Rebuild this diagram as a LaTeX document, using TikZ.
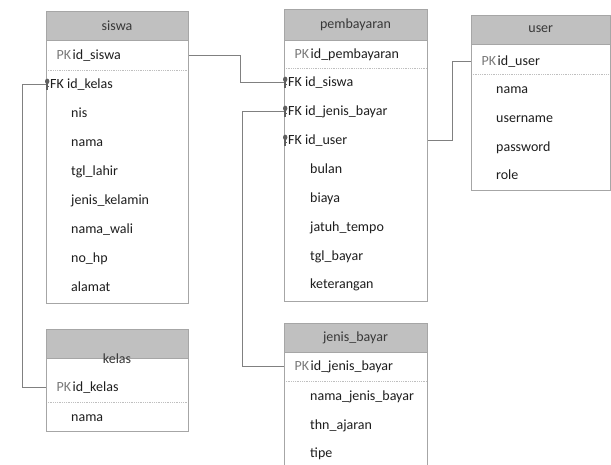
\documentclass[tikz,border=0pt]{standalone}
\usepackage{fontspec}
\setmainfont{Carlito}

\definecolor{hdrgray}{HTML}{C0C0C0}
\definecolor{bordergray}{HTML}{A6A6A6}
\definecolor{textdark}{HTML}{1E1E1E}
\definecolor{hdrtext}{HTML}{383838}
\definecolor{pkgray}{HTML}{7A7A7A}
\definecolor{linkgray}{HTML}{808080}
\definecolor{sepgray}{HTML}{BFBFBF}
\definecolor{keygray}{HTML}{5E5E5E}

% table frame: name, left, right, top, header bottom, separator, bottom, title, title y
\newcommand\erframe[9]{%
  \fill[white] (#2,#4) rectangle (#3,#7);
  \draw[hdrbox] (#2,#4) rectangle (#3,#5);
  \draw[sepline] (#2,#6) -- (#3,#6);
  \draw[framebox] (#2,#4) rectangle (#3,#7);
  \node[titletext] (#1) at ({(#2+#3)/2},#9) {#8};
}
% plain attribute: name, x, row y, text
\newcommand\erattr[4]{\node[attrtext] (#1) at (#2,#3+4.5) {#4};}
% primary key row: name, box left, row y, text
\newcommand\erpk[4]{%
  \node[pktext] (#1-tag) at (#2+10.5,#3+4.5) {PK};
  \node[attrtext] (#1) at (#2+26.5,#3+4.5) {#4};}
% foreign key row with key glyph: name, box left, row y, text
\newcommand\erfk[4]{%
  \fill[keygray] (#2+1.2,#3-2.6) ellipse (2.2 and 2.7);
  \draw[keygray, line width=1.6pt] (#2+1.2,#3-1) -- (#2+1.2,#3+5.5);
  \draw[keygray, line width=0.9pt] (#2+1.2,#3+2.8) -- (#2+3,#3+2.8);
  \node[attrtext] (#1) at (#2+4,#3+4.5) {FK #4};}

\begin{document}
\begin{tikzpicture}[x=1pt, y=-1pt,
  hdrbox/.style={fill=hdrgray, draw=bordergray, line width=0.8pt},
  framebox/.style={draw=bordergray, line width=0.8pt},
  sepline/.style={draw=sepgray, line width=0.8pt, dash pattern=on 1pt off 0.8pt},
  attrtext/.style={anchor=base west, inner sep=0pt, text=textdark, font=\fontsize{14}{16}\selectfont},
  pktext/.style={attrtext, text=pkgray},
  titletext/.style={inner sep=0pt, text=hdrtext, font=\fontsize{14}{16}\selectfont},
  link/.style={draw=linkgray, line width=0.8pt}]
\useasboundingbox (0,0) rectangle (611,464);
\clip (0,0) rectangle (611,464);
\fill[white] (0,0) rectangle (611,464);

% connectors
\coordinate (siswa-pk-e) at (188,55);
\coordinate (siswa-fk-w) at (46,84);
\coordinate (kelas-pk-w) at (46,387);
\coordinate (bayar-fks-w) at (284,82);
\coordinate (bayar-fkj-w) at (284,111);
\coordinate (bayar-fku-e) at (427,140);
\coordinate (jenis-pk-w) at (284,366);
\coordinate (user-pk-w) at (471,61);

\draw[link] (siswa-pk-e) -- ++(52,0) |- (bayar-fks-w);
\draw[link] (siswa-fk-w) -- ++(-24,0) |- (kelas-pk-w);
\draw[link] (bayar-fkj-w) -- ++(-42,0) |- (jenis-pk-w);
\draw[link] (bayar-fku-e) -- ++(25,0) |- (user-pk-w);

% siswa
\erframe{siswa}{46}{188}{11}{40}{70}{303}{siswa}{25.5}
\erpk{s-id}{46}{55}{id\_siswa}
\erfk{s-kelas}{46}{84}{id\_kelas}
\erattr{s-nis}{71}{113}{nis}
\erattr{s-nama}{71}{142}{nama}
\erattr{s-tgl}{71}{171}{tgl\_lahir}
\erattr{s-jk}{71}{200}{jenis\_kelamin}
\erattr{s-wali}{71}{229}{nama\_wali}
\erattr{s-hp}{71}{258}{no\_hp}
\erattr{s-alamat}{71}{287}{alamat}

% kelas
\erframe{kelas}{46}{188}{329}{358}{402}{431}{kelas}{359}
\erpk{k-id}{46}{387}{id\_kelas}
\erattr{k-nama}{71}{417}{nama}

% pembayaran
\erframe{pembayaran}{284}{427}{9}{40}{68}{301}{pembayaran}{24.5}
\erpk{p-id}{284}{54}{id\_pembayaran}
\erfk{p-siswa}{284}{82}{id\_siswa}
\erfk{p-jenis}{284}{111}{id\_jenis\_bayar}
\erfk{p-user}{284}{140}{id\_user}
\erattr{p-bulan}{310}{169}{bulan}
\erattr{p-biaya}{310}{198}{biaya}
\erattr{p-tempo}{310}{227}{jatuh\_tempo}
\erattr{p-tgl}{310}{256}{tgl\_bayar}
\erattr{p-ket}{310}{284}{keterangan}

% jenis_bayar
\erframe{jenisbayar}{284}{427}{323}{352}{381}{470}{jenis\_bayar}{337.5}
\erpk{j-id}{284}{366}{id\_jenis\_bayar}
\erattr{j-nama}{310}{396}{nama\_jenis\_bayar}
\erattr{j-thn}{310}{425}{thn\_ajaran}
\erattr{j-tipe}{310}{453}{tipe}

% user
\erframe{user}{471}{610.5}{15}{44}{74}{190}{user}{29.5}
\erpk{u-id}{471}{61}{id\_user}
\erattr{u-nama}{496}{89}{nama}
\erattr{u-uname}{496}{118}{username}
\erattr{u-pass}{496}{147}{password}
\erattr{u-role}{496}{175}{role}
\end{tikzpicture}
\end{document}
